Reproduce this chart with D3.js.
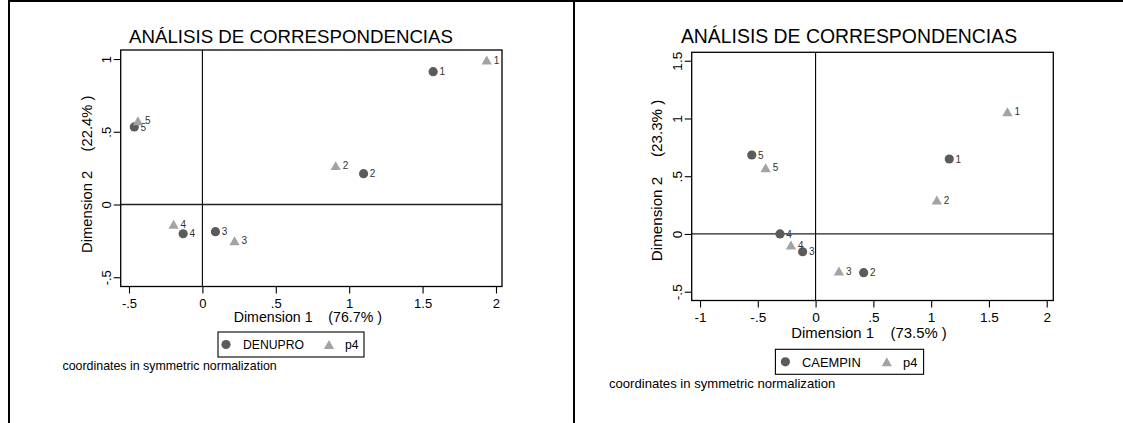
<!DOCTYPE html>
<html><head><meta charset="utf-8">
<script src="https://cdn.jsdelivr.net/npm/d3@7"></script>
<style>
body{margin:0;background:#fff}
svg{display:block}
text{font-family:"Liberation Sans",Arial,Helvetica,sans-serif}
</style>
</head><body>
<svg id="chart" width="1123" height="423"></svg>
<script>
// ---------------- DATA ----------------
const pointLabels = ["1", "2", "3", "4", "5"];

// Left panel: DENUPRO (circles) and p4 (triangles)
const denuproX = [1.572, 1.098, 0.089, -0.131, -0.464];
const denuproY = [0.913, 0.212, -0.187, -0.201, 0.533];
const p4LeftX  = [1.937, 0.908, 0.219, -0.196, -0.439];
const p4LeftY  = [0.993, 0.267, -0.249, -0.136, 0.576];

// Right panel: CAEMPIN (circles) and p4 (triangles)
const caempinX = [1.157, 0.416, -0.112, -0.308, -0.552];
const caempinY = [0.649, -0.335, -0.154, 0.000, 0.684];
const p4RightX = [1.660, 1.049, 0.202, -0.213, -0.432];
const p4RightY = [1.058, 0.294, -0.321, -0.096, 0.574];

const xTicksLeft  = [-0.5, 0, 0.5, 1, 1.5, 2];
const yTicksLeft  = [-0.5, 0, 0.5, 1];
const xTicksRight = [-1, -0.5, 0, 0.5, 1, 1.5, 2];
const yTicksRight = [-0.5, 0, 0.5, 1, 1.5];

const chartTitle = "ANÁLISIS DE CORRESPONDENCIAS";
const dim1Label = "Dimension 1";
const dim2Label = "Dimension 2";
const inertiaLeft  = ["(76.7% )", "(22.4% )"];
const inertiaRight = ["(73.5% )", "(23.3% )"];
const seriesLeft  = ["DENUPRO", "p4"];
const seriesRight = ["CAEMPIN", "p4"];
const noteText = "coordinates in symmetric normalization";

// ---------------- LAYOUT ----------------
const panels = [
  {
    frame: {x0: 120.7, y0: 50, x1: 502, y1: 286.5},
    xDomain: [-0.5565, 2.041], yDomain: [-0.5636, 1.062],
    xTicks: xTicksLeft, yTicks: yTicksLeft,
    rowX: denuproX, rowY: denuproY, colX: p4LeftX, colY: p4LeftY,
    inertia: inertiaLeft, series: seriesLeft,
    title: {cx: 291, y: 43.3, size: 18.7},
    axisSize: 14.2, yAxisSize: 14.8, tickFont: 13,
    xTitleY: 322, yTitleX: 92, yTitleShift: 6,
    legend: {x: 218, y: 332, w: 146, h: 25, text: 12.2, c: 8, t1: 25, tri: 111, t2: 127, base: 17},
    note: {x: 62.5, y: 370, size: 12.4}
  },
  {
    frame: {x0: 691.7, y0: 52.3, x1: 1053.3, y1: 300.5},
    xDomain: [-1.072, 2.057], yDomain: [-0.576, 1.573],
    xTicks: xTicksRight, yTicks: yTicksRight,
    rowX: caempinX, rowY: caempinY, colX: p4RightX, colY: p4RightY,
    inertia: inertiaRight, series: seriesRight,
    title: {cx: 849, y: 43.3, size: 19.4},
    axisSize: 14.9, yAxisSize: 15.2, tickFont: 13.6,
    xTitleY: 338, yTitleX: 662, yTitleShift: 4,
    legend: {x: 775.4, y: 349.3, w: 148.2, h: 25, text: 12.9, c: 10, t1: 26.6, tri: 111.4, t2: 127.6, base: 17.7},
    note: {x: 609, y: 388, size: 13.1}
  }
];

const circleColor = "#5b5b5b";
const triColor = "#a3a3a3";
const labelColor = "#333333";

// triangle symbol centred on its bounding box
const triangleBox = {
  draw(ctx, size) {
    const s = Math.sqrt(size * 4 / Math.sqrt(3));
    const h = s * Math.sqrt(3) / 2;
    ctx.moveTo(0, -h / 2);
    ctx.lineTo(s / 2, h / 2);
    ctx.lineTo(-s / 2, h / 2);
    ctx.closePath();
  }
};

const fmt = v => {
  let s = String(v);
  return s.replace(/^0\./, ".").replace(/^-0\./, "-.");
};

const svg = d3.select("#chart");

// outer borders (document table)
svg.append("rect").attr("x", 8).attr("y", 0).attr("width", 1115).attr("height", 2).attr("fill", "#000");
svg.append("rect").attr("x", 8).attr("y", 0).attr("width", 2).attr("height", 423).attr("fill", "#000");
svg.append("rect").attr("x", 573).attr("y", 0).attr("width", 2).attr("height", 423).attr("fill", "#000");

panels.forEach(p => {
  const f = p.frame;
  const x = d3.scaleLinear().domain(p.xDomain).range([f.x0, f.x1]);
  const y = d3.scaleLinear().domain(p.yDomain).range([f.y1, f.y0]);
  const g = svg.append("g");

  // title
  g.append("text").attr("x", p.title.cx).attr("y", p.title.y)
    .attr("text-anchor", "middle").attr("font-size", p.title.size)
    .attr("fill", "#000").text(chartTitle);

  // zero reference lines
  g.append("line").attr("x1", x(0)).attr("x2", x(0)).attr("y1", f.y0).attr("y2", f.y1)
    .attr("stroke", "#000").attr("stroke-width", 1.1);
  g.append("line").attr("x1", f.x0).attr("x2", f.x1).attr("y1", y(0)).attr("y2", y(0))
    .attr("stroke", "#222").attr("stroke-width", 1.3);

  // axes
  const xa = g.append("g").attr("transform", `translate(0,${f.y1})`)
    .call(d3.axisBottom(x).tickValues(p.xTicks).tickFormat(fmt).tickSize(7).tickSizeOuter(0).tickPadding(3));
  xa.select(".domain").remove();
  xa.selectAll(".tick line").attr("stroke", "#000").attr("stroke-width", 1.1);
  xa.selectAll(".tick text").attr("font-size", p.tickFont).attr("fill", "#000")
    .attr("font-family", null).attr("dy", null).attr("y", 21);

  const ya = g.append("g").attr("transform", `translate(${f.x0},0)`)
    .call(d3.axisLeft(y).tickValues(p.yTicks).tickFormat(fmt).tickSize(7).tickSizeOuter(0));
  ya.select(".domain").remove();
  ya.selectAll(".tick line").attr("stroke", "#000").attr("stroke-width", 1.1);
  ya.selectAll(".tick text").attr("font-size", p.tickFont).attr("fill", "#000")
    .attr("font-family", null).attr("dy", null).attr("x", 0).attr("y", -10)
    .attr("text-anchor", "middle").attr("transform", "rotate(-90)");

  // frame
  g.append("rect").attr("x", f.x0).attr("y", f.y0)
    .attr("width", f.x1 - f.x0).attr("height", f.y1 - f.y0)
    .attr("fill", "none").attr("stroke", "#000").attr("stroke-width", 1.3);

  // axis titles
  const xt = g.append("text").attr("x", (f.x0 + f.x1) / 2 - 3.5).attr("y", p.xTitleY)
    .attr("text-anchor", "middle").attr("font-size", p.axisSize).attr("fill", "#000");
  xt.append("tspan").text(dim1Label);
  xt.append("tspan").attr("dx", p.axisSize * 1.11).text(p.inertia[0]);

  const yt = g.append("text")
    .attr("transform", `translate(${p.yTitleX},${(f.y0 + f.y1) / 2 + p.yTitleShift}) rotate(-90)`)
    .attr("text-anchor", "middle").attr("font-size", p.yAxisSize).attr("fill", "#000");
  yt.append("tspan").text(dim2Label);
  yt.append("tspan").attr("dx", p.yAxisSize * 1.3).text(p.inertia[1]);

  // points: circles (rows) then triangles (columns)
  const rows = pointLabels.map((l, i) => ({l, x: p.rowX[i], y: p.rowY[i]}));
  const cols = pointLabels.map((l, i) => ({l, x: p.colX[i], y: p.colY[i]}));

  const pts = g.append("g");
  pts.selectAll("circle.row").data(rows).join("circle")
    .attr("class", "row")
    .attr("cx", d => x(d.x)).attr("cy", d => y(d.y)).attr("r", 4.6)
    .attr("fill", circleColor);
  pts.selectAll("text.rowlab").data(rows).join("text")
    .attr("class", "rowlab")
    .attr("x", d => x(d.x) + 6.3).attr("y", d => y(d.y) + 3.7)
    .attr("font-size", 10).attr("fill", labelColor).text(d => d.l);

  const tri = d3.symbol().type(triangleBox).size(46);
  pts.selectAll("path.col").data(cols).join("path")
    .attr("class", "col")
    .attr("transform", d => `translate(${x(d.x)},${y(d.y)})`)
    .attr("d", tri).attr("fill", triColor);
  pts.selectAll("text.collab").data(cols).join("text")
    .attr("class", "collab")
    .attr("x", d => x(d.x) + 7).attr("y", d => y(d.y) + 3.7)
    .attr("font-size", 10).attr("fill", labelColor).text(d => d.l);

  // legend
  const L = p.legend;
  const lg = g.append("g").attr("transform", `translate(${L.x},${L.y})`);
  lg.append("rect").attr("width", L.w).attr("height", L.h)
    .attr("fill", "#fff").attr("stroke", "#000").attr("stroke-width", 1.1);
  lg.append("circle").attr("cx", L.c).attr("cy", L.h / 2).attr("r", 4.6).attr("fill", circleColor);
  lg.append("text").attr("x", L.t1).attr("y", L.base).attr("font-size", L.text).attr("fill", "#000").text(p.series[0]);
  lg.append("path").attr("transform", `translate(${L.tri},${L.h / 2})`).attr("d", tri).attr("fill", triColor);
  lg.append("text").attr("x", L.t2).attr("y", L.base).attr("font-size", L.text).attr("fill", "#000").text(p.series[1]);

  // note
  g.append("text").attr("x", p.note.x).attr("y", p.note.y)
    .attr("font-size", p.note.size).attr("fill", "#000").text(noteText);
});
</script>
</body></html>
